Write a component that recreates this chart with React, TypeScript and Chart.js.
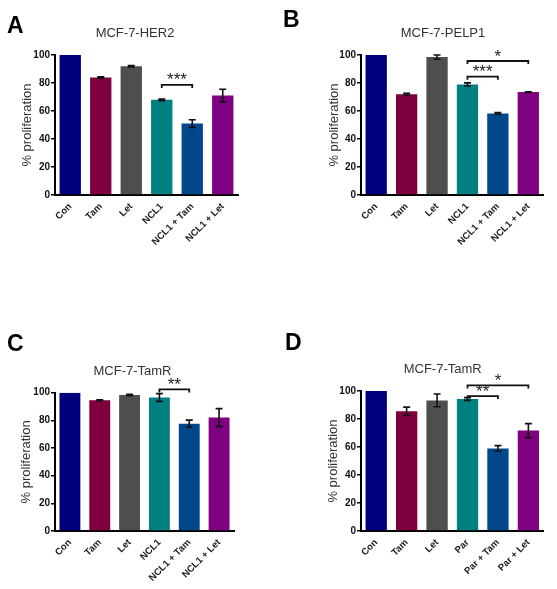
import React, { useEffect, useRef } from 'react';
import { Chart, registerables } from 'chart.js';
Chart.register(...registerables);

const FONT = '"Liberation Sans", Arial, Helvetica, sans-serif';

// ---- data ----
const labelsNCL1 = ['Con', 'Tam', 'Let', 'NCL1', 'NCL1 + Tam', 'NCL1 + Let'];
const labelsPar = ['Con', 'Tam', 'Let', 'Par', 'Par + Tam', 'Par + Let'];
const yTickValues = [0, 20, 40, 60, 80, 100];

const valuesA = [100, 84, 92, 68, 51, 71];
const errorsA = [0, 0.5, 0.5, 0.6, 2.7, 4.5];
const valuesB = [100, 72, 98.5, 79, 58.3, 73.5];
const errorsB = [0, 0.7, 1.5, 1.1, 0.6, 0.3];
const valuesC = [100, 94.5, 98.3, 96.5, 77.6, 82];
const errorsC = [0, 0.3, 0.5, 2.8, 2.6, 6.5];
const valuesD = [100, 85.5, 93.3, 94.3, 59, 71.7];
const errorsD = [0, 3, 4.6, 1, 2, 5];

const bracketsA = [{ from: 3, to: 4, y: 78.6, label: '***' }];
const bracketsB = [
  { from: 3, to: 4, y: 84.5, label: '***' },
  { from: 3, to: 5, y: 95.7, label: '*' },
];
const bracketsC = [{ from: 3, to: 4, y: 102.4, label: '**' }];
const bracketsD = [
  { from: 3, to: 4, y: 96.4, label: '**' },
  { from: 3, to: 5, y: 104, label: '*' },
];

const barColors = ['#00007e', '#7e003e', '#4e4e4e', '#008080', '#00478b', '#7f0080'];

// ---- layout ----
const panels = [
  {
    letter: 'A', title: 'MCF-7-HER2', labels: labelsNCL1, values: valuesA, errors: errorsA, brackets: bracketsA,
    x: 0, y: 0, w: 278, h: 295, area: { l: 55, t: 55, r: 238, b: 195 },
    titlePos: [135, 33], letterPos: [7, 33], yTitlePad: 20,
  },
  {
    letter: 'B', title: 'MCF-7-PELP1', labels: labelsNCL1, values: valuesB, errors: errorsB, brackets: bracketsB,
    x: 278, y: 0, w: 279, h: 295, area: { l: 83, t: 55, r: 265.5, b: 195 },
    titlePos: [165, 33], letterPos: [5, 27], yTitlePad: 49,
  },
  {
    letter: 'C', title: 'MCF-7-TamR', labels: labelsNCL1, values: valuesC, errors: errorsC, brackets: bracketsC,
    x: 0, y: 295, w: 278, h: 294, area: { l: 55, t: 97.7, r: 234, b: 236 },
    titlePos: [132.5, 76], letterPos: [7, 56], yTitlePad: 19,
  },
  {
    letter: 'D', title: 'MCF-7-TamR', labels: labelsPar, values: valuesD, errors: errorsD, brackets: bracketsD,
    x: 278, y: 295, w: 279, h: 294, area: { l: 83, t: 96, r: 265.6, b: 236 },
    titlePos: [164.7, 74.5], letterPos: [7, 55], yTitlePad: 48,
  },
];

const annotatePlugin = {
  id: 'annotate',
  afterDatasetsDraw(chart: any, _args: any, opts: any) {
    const ctx = chart.ctx;
    const meta = chart.getDatasetMeta(0);
    const ys = chart.scales.y;
    ctx.save();
    ctx.strokeStyle = '#111';
    ctx.lineWidth = 1.6;
    opts.errors.forEach((e: number, i: number) => {
      if (!e) return;
      const bx = meta.data[i].x;
      const v = opts.values[i];
      const yt = ys.getPixelForValue(v + e);
      const yb = ys.getPixelForValue(v - e);
      ctx.beginPath();
      ctx.moveTo(bx, yt); ctx.lineTo(bx, yb);
      ctx.moveTo(bx - 3.5, yt); ctx.lineTo(bx + 3.5, yt);
      ctx.moveTo(bx - 3.5, yb); ctx.lineTo(bx + 3.5, yb);
      ctx.stroke();
    });
    ctx.lineWidth = 1.8;
    ctx.fillStyle = '#222';
    ctx.font = `17px ${FONT}`;
    ctx.textAlign = 'center';
    ctx.textBaseline = 'alphabetic';
    opts.brackets.forEach((b: any) => {
      const x1 = meta.data[b.from].x;
      const x2 = meta.data[b.to].x;
      const yy = ys.getPixelForValue(b.y);
      ctx.beginPath();
      ctx.moveTo(x1, yy + 3); ctx.lineTo(x1, yy); ctx.lineTo(x2, yy); ctx.lineTo(x2, yy + 3);
      ctx.stroke();
      ctx.fillText(b.label, (x1 + x2) / 2, yy + 0.5);
    });
    ctx.restore();
  },
  afterDraw(chart: any, _args: any, opts: any) {
    const ctx = chart.ctx;
    ctx.save();
    ctx.fillStyle = '#333';
    ctx.font = `13px ${FONT}`;
    ctx.textAlign = 'center';
    ctx.textBaseline = 'middle';
    ctx.fillText(opts.title, opts.titlePos[0], opts.titlePos[1]);
    ctx.fillStyle = '#000';
    ctx.font = `bold 23px ${FONT}`;
    ctx.textAlign = 'left';
    ctx.textBaseline = 'alphabetic';
    ctx.fillText(opts.letter, opts.letterPos[0], opts.letterPos[1]);
    ctx.restore();
  },
};

function Panel({ p }: { p: any }) {
  const ref = useRef<HTMLCanvasElement>(null);
  useEffect(() => {
    if (!ref.current) return;
    const chart = new Chart(ref.current, {
      type: 'bar',
      data: {
        labels: p.labels,
        datasets: [{
          data: p.values,
          backgroundColor: barColors,
          borderWidth: 0,
          barPercentage: 0.7,
          categoryPercentage: 1,
        }],
      },
      options: {
        animation: false,
        responsive: false,
        maintainAspectRatio: false,
        events: [],
        layout: { padding: { left: 0, top: p.area.t, right: p.w - p.area.r, bottom: 0 } },
        plugins: {
          legend: { display: false },
          tooltip: { enabled: false },
          title: { display: false },
          annotate: {
            values: p.values, errors: p.errors, brackets: p.brackets,
            title: p.title, titlePos: p.titlePos, letter: p.letter, letterPos: p.letterPos,
          },
        } as any,
        scales: {
          x: {
            grid: { display: false, drawTicks: false },
            border: { display: true, color: '#000', width: 2 },
            ticks: {
              color: '#1a1a1a', font: { family: FONT, size: 9.5, weight: 'bold' },
              minRotation: 45, maxRotation: 45, padding: 6, autoSkip: false,
            },
            afterFit: (s: any) => { s.height = p.h - p.area.b; },
          },
          y: {
            min: 0, max: 100,
            afterBuildTicks: (s: any) => { s.ticks = yTickValues.map((v) => ({ value: v })); },
            grid: { drawOnChartArea: false, drawTicks: true, tickLength: 4, color: '#000', lineWidth: 1.5 },
            border: { display: true, color: '#000', width: 2 },
            ticks: { color: '#111', font: { family: FONT, size: 10, weight: 'bold' }, padding: 1 },
            title: {
              display: true, text: '% proliferation', color: '#333',
              font: { family: FONT, size: 13 }, padding: { top: p.yTitlePad, bottom: 0 },
            },
            afterFit: (s: any) => { s.width = p.area.l; },
          },
        },
      },
      plugins: [annotatePlugin],
    } as any);
    return () => chart.destroy();
  }, [p]);
  return (
    <canvas
      ref={ref}
      width={p.w}
      height={p.h}
      style={{ position: 'absolute', left: p.x, top: p.y, width: p.w, height: p.h }}
    />
  );
}

export default function App() {
  return (
    <div style={{ position: 'fixed', left: 0, top: 0, width: 557, height: 589, background: '#fff' }}>
      {panels.map((p) => <Panel key={p.letter} p={p} />)}
    </div>
  );
}
